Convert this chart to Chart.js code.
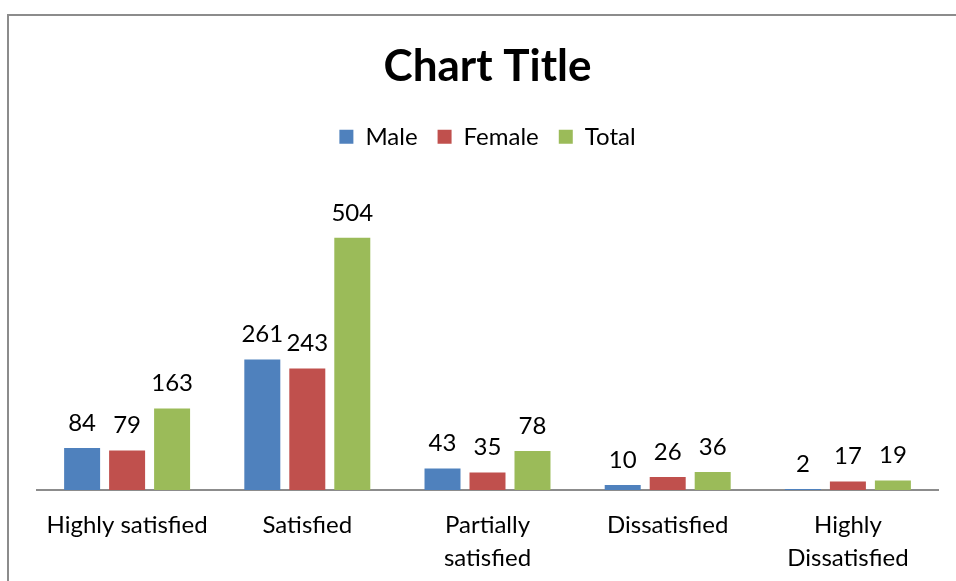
<!DOCTYPE html>
<html>
<head>
<meta charset="utf-8">
<script src="https://cdn.jsdelivr.net/npm/chart.js@4"></script>
<style>
  html, body { margin: 0; padding: 0; background: #fff; overflow: hidden; }
  #frame { position: absolute; left: 7px; top: 14px; width: 1000px; height: 1000px;
           border-left: 2px solid #8c8c8c; border-top: 2px solid #8c8c8c; }
  #wrap { position: absolute; left: 0; top: 0; width: 956px; height: 581px; }
</style>
</head>
<body>
<div id="frame"></div>
<div id="wrap"><canvas id="chart"></canvas></div>
<script>
// categories and series
var categories = ['Highly satisfied', 'Satisfied', ['Partially', 'satisfied'], 'Dissatisfied', ['Highly', 'Dissatisfied']];
var male = [84, 261, 43, 10, 2];
var female = [79, 243, 35, 26, 17];
var total = [163, 504, 78, 36, 19];

// draws the value above each bar
var valueLabels = {
    id: 'valueLabels',
    afterDatasetsDraw: function (chart) {
        var ctx = chart.ctx;
        ctx.save();
        ctx.font = '24px Lato';
        ctx.fillStyle = '#000';
        ctx.textAlign = 'center';
        ctx.textBaseline = 'middle';
        chart.data.datasets.forEach(function (ds, i) {
            chart.getDatasetMeta(i).data.forEach(function (bar, j) {
                ctx.fillText(ds.data[j], bar.x, bar.y - 25);
            });
        });
        ctx.restore();
    }
};

var ctx = document.getElementById('chart').getContext('2d');
var chart = new Chart(ctx, {
    type: 'bar',
    data: {
        labels: categories,
        datasets: [
            { label: 'Male', data: male, backgroundColor: '#4F81BD' },
            { label: 'Female', data: female, backgroundColor: '#C0504D' },
            { label: 'Total', data: total, backgroundColor: '#9BBB59' }
        ]
    },
    options: {
        responsive: true,
        maintainAspectRatio: false,
        animation: false,
        layout: { padding: { left: 37, right: 18, top: 0, bottom: 0 } },
        datasets: { bar: { categoryPercentage: 0.749, barPercentage: 0.8 } },
        plugins: {
            title: {
                display: true,
                text: 'Chart Title',
                color: '#000',
                font: { family: 'Lato', size: 44, weight: 'bold', lineHeight: 1.2 },
                padding: { top: 40, bottom: 12 }
            },
            legend: {
                labels: {
                    color: '#000',
                    font: { family: 'Lato', size: 24 },
                    boxWidth: 14,
                    boxHeight: 14,
                    padding: 20
                }
            },
            tooltip: { enabled: false }
        },
        scales: {
            x: {
                grid: { display: false, drawTicks: false },
                border: { display: true, color: '#8c8c8c', width: 2 },
                ticks: { color: '#000', font: { family: 'Lato', size: 24, lineHeight: 1.375 }, padding: 19, maxRotation: 0, autoSkip: false },
                afterFit: function (axis) { axis.height = 91; }
            },
            y: {
                display: false,
                min: 0,
                max: 662
            }
        }
    },
    plugins: [valueLabels]
});
</script>
</body>
</html>
